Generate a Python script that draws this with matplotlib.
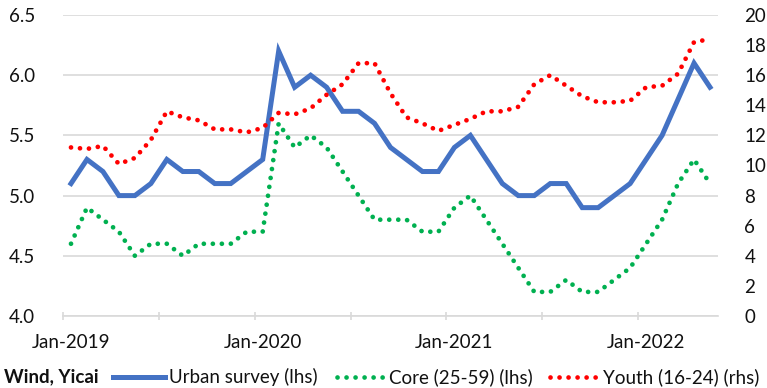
import numpy as np
import matplotlib
matplotlib.use("Agg")
from matplotlib import pyplot as plt
from matplotlib.lines import Line2D

plt.rcParams['font.family'] = ['Lato', 'DejaVu Sans']

# monthly, Jan-2019 .. May-2022
months = 41
xlabels = ['Jan-2019', 'Jan-2020', 'Jan-2021', 'Jan-2022']
names = ['Urban survey (lhs)', 'Core (25-59) (lhs)', 'Youth (16-24) (rhs)']
urban = [5.1, 5.3, 5.2, 5.0, 5.0, 5.1, 5.3, 5.2, 5.2, 5.1, 5.1, 5.2,
         5.3, 6.2, 5.9, 6.0, 5.9, 5.7, 5.7, 5.6, 5.4, 5.3, 5.2, 5.2,
         5.4, 5.5, 5.3, 5.1, 5.0, 5.0, 5.1, 5.1, 4.9, 4.9, 5.0, 5.1,
         5.3, 5.5, 5.8, 6.1, 5.9]
core = [4.6, 4.9, 4.8, 4.7, 4.5, 4.6, 4.6, 4.5, 4.6, 4.6, 4.6, 4.7,
        4.7, 5.6, 5.4, 5.5, 5.4, 5.2, 5.0, 4.8, 4.8, 4.8, 4.7, 4.7,
        4.9, 5.0, 4.8, 4.6, 4.4, 4.2, 4.2, 4.3, 4.2, 4.2, 4.3, 4.4,
        4.6, 4.8, 5.1, 5.3, 5.1]
youth = [11.2, 11.1, 11.3, 10.1, 10.5, 11.7, 13.6, 13.2, 13.0, 12.4, 12.4, 12.2,
         12.5, 13.5, 13.4, 13.8, 14.7, 15.4, 16.8, 16.8, 14.8, 13.2, 12.8, 12.3,
         12.7, 13.1, 13.6, 13.6, 13.9, 15.4, 16.0, 15.3, 14.6, 14.2, 14.2, 14.3,
         15.2, 15.3, 16.1, 18.2, 18.4]

blue = '#4472C4'
green = '#00B050'
red = '#FF0000'
grid = '#D9D9D9'
txt = '#111111'
dots = (0, (0.01, 1.9))
fs = 13.5
W, H = 767, 388

x = np.arange(months)

fig = plt.figure(figsize=(7.67, 3.88), dpi=100)
ax = fig.add_axes([63/W, 72/H, 655/W, 301/H])
ax2 = ax.twinx()

ax.plot(x, urban, color=blue, lw=3.6, solid_joinstyle='miter', zorder=3)
ax.plot(x, core, color=green, lw=3.4, ls=dots, dash_capstyle='round', zorder=2)
ax2.plot(x, youth, color=red, lw=3.4, ls=dots, dash_capstyle='round', zorder=2)

ax.set_xlim(-0.5, months - 0.5)
ax.set_ylim(4.0, 6.5)
ax2.set_ylim(0, 20)
ax.set_yticks(np.arange(4.0, 6.51, 0.5))
ax.set_yticklabels(['%.1f' % v for v in np.arange(4.0, 6.51, 0.5)])
ax2.set_yticks(np.arange(0, 21, 2))

ax.yaxis.grid(True, color=grid, lw=1.2)
ax.set_axisbelow(True)
for a in (ax, ax2):
    for s in a.spines.values():
        s.set_visible(False)
    a.tick_params(axis='y', length=0, labelsize=fs, labelcolor=txt)
ax.tick_params(axis='y', pad=20)
ax2.tick_params(axis='y', pad=19)
ax.spines['bottom'].set_visible(True)
ax.spines['bottom'].set_color(grid)
ax.spines['bottom'].set_linewidth(1.2)

ax.set_xticks(np.arange(-0.5, months, 6))
ax.set_xticklabels([])
ax.tick_params(axis='x', which='major', direction='inout', length=6, color=grid, width=1.2)
ax.set_xticks([0, 12, 24, 36], minor=True)
ax.set_xticklabels(xlabels, minor=True)
ax.tick_params(axis='x', which='minor', length=0, pad=13, labelsize=fs, labelcolor=txt)

# legend row, laid out by hand
ly = 1 - 377/H
fig.text(4/W, ly, 'Wind, Yicai', fontsize=fs, fontweight='bold',
         va='center', ha='left', color=txt)
styles = [dict(color=blue, lw=3.6),
          dict(color=green, lw=3.4, ls=dots, dash_capstyle='round'),
          dict(color=red, lw=3.4, ls=dots, dash_capstyle='round')]
spans = [(113, 165), (337, 383), (550, 596)]
text_x = [169, 389, 603]
for st, (a, b), tx, nm in zip(styles, spans, text_x, names):
    fig.add_artist(Line2D([a/W, b/W], [ly, ly], transform=fig.transFigure, **st))
    fig.text(tx/W, ly, nm, fontsize=fs, va='center', ha='left', color=txt)

fig.savefig('out.png', dpi=100)
